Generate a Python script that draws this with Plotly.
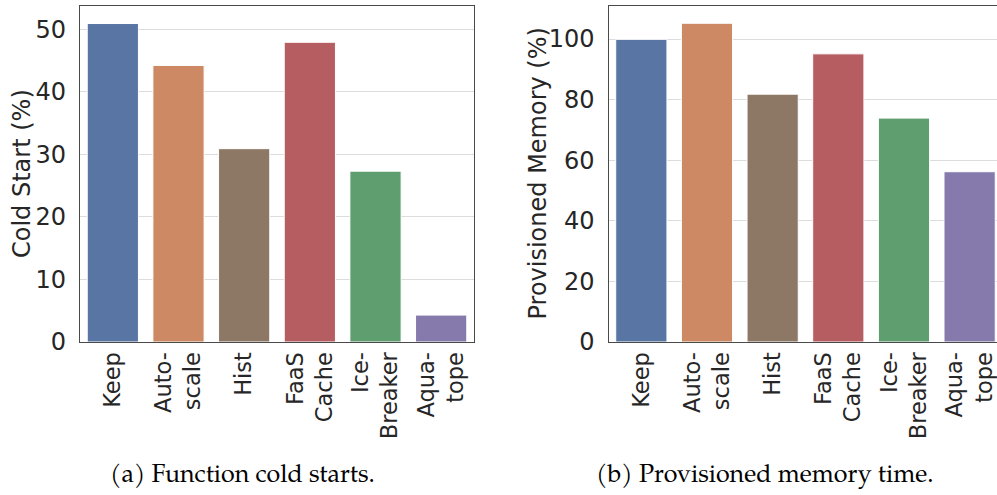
import plotly.graph_objects as go

categories = ["Keep", "Auto-<br>scale", "Hist", "FaaS<br>Cache", "Ice-<br>Breaker", "Aqua-<br>tope"]
cold_start = [50.9, 44.2, 30.9, 47.9, 27.3, 4.3]
prov_memory = [99.9, 105.2, 81.8, 95.1, 73.9, 56.2]
colors = ["#5975a4", "#cc8963", "#8c7864", "#b55d60", "#5f9e6e", "#857aab"]
y1_ticks = [0, 10, 20, 30, 40, 50]
y2_ticks = [0, 20, 40, 60, 80, 100]

W, H = 997, 495
FONT = "DejaVu Sans"
TXT = "#262626"
SPINE = "#4a4a4a"
GRID = "#dcdcdc"

fig = go.Figure()
fig.add_trace(go.Bar(x=categories, y=cold_start, marker=dict(color=colors, line=dict(color="white", width=1)),
                     xaxis="x", yaxis="y", showlegend=False, width=0.78, hoverinfo="skip"))
fig.add_trace(go.Bar(x=categories, y=prov_memory, marker=dict(color=colors, line=dict(color="white", width=1)),
                     xaxis="x2", yaxis="y2", showlegend=False, width=0.78, hoverinfo="skip"))

ydom = [1 - 342 / H, 1 - 6 / H]
common_x = dict(tickangle=-90, tickfont=dict(family=FONT, size=22.5, color=TXT), showline=True,
                linecolor=SPINE, linewidth=1.3, ticks="", showgrid=False, ticklabelstandoff=0,
                categoryorder="array", categoryarray=categories, automargin=False)
common_y = dict(tickfont=dict(family=FONT, size=24, color=TXT), showline=True, linecolor=SPINE,
                linewidth=1.3, ticks="", showgrid=True, gridcolor=GRID, gridwidth=1, zeroline=False,
                ticklabelstandoff=8, domain=ydom, automargin=False)

fig.update_layout(
    width=W, height=H, margin=dict(l=0, r=0, t=0, b=0),
    plot_bgcolor="white", paper_bgcolor="white",
    xaxis=dict(domain=[80 / W, 474 / W], anchor="y", range=[-0.5, 5.5], mirror=True, **common_x),
    yaxis=dict(anchor="x", range=[0, 53.7], tickvals=y1_ticks, mirror=True, **common_y),
    xaxis2=dict(domain=[608.5 / W, 1.0], anchor="y2", range=[-0.5, 5.417], mirror=True, **common_x),
    yaxis2=dict(anchor="x2", range=[0, 110.9], tickvals=y2_ticks, mirror=False, **common_y),
)

annots = [
    dict(text="Cold Start (%)", x=22 / W, y=1 - 174 / H, textangle=-90),
    dict(text="Provisioned Memory (%)", x=537.5 / W, y=1 - 174 / H, textangle=-90),
]
for a in annots:
    fig.add_annotation(xref="paper", yref="paper", showarrow=False, xanchor="center", yanchor="middle",
                       font=dict(family=FONT, size=24, color=TXT), **a)

caps = [("(a) Function cold starts.", 242), ("(b) Provisioned memory time.", 764)]
for t, cx in caps:
    fig.add_annotation(text=t, xref="paper", yref="paper", x=cx / W, y=1 - 476 / H, showarrow=False,
                       xanchor="center", yanchor="middle",
                       font=dict(family="TeX Gyre Pagella, Palatino Linotype, Liberation Serif, serif", size=25, color="black"))

fig.write_html("out.html", config={"displayModeBar": False},
               post_script="document.body.style.margin='0';document.body.style.overflow='hidden';")
